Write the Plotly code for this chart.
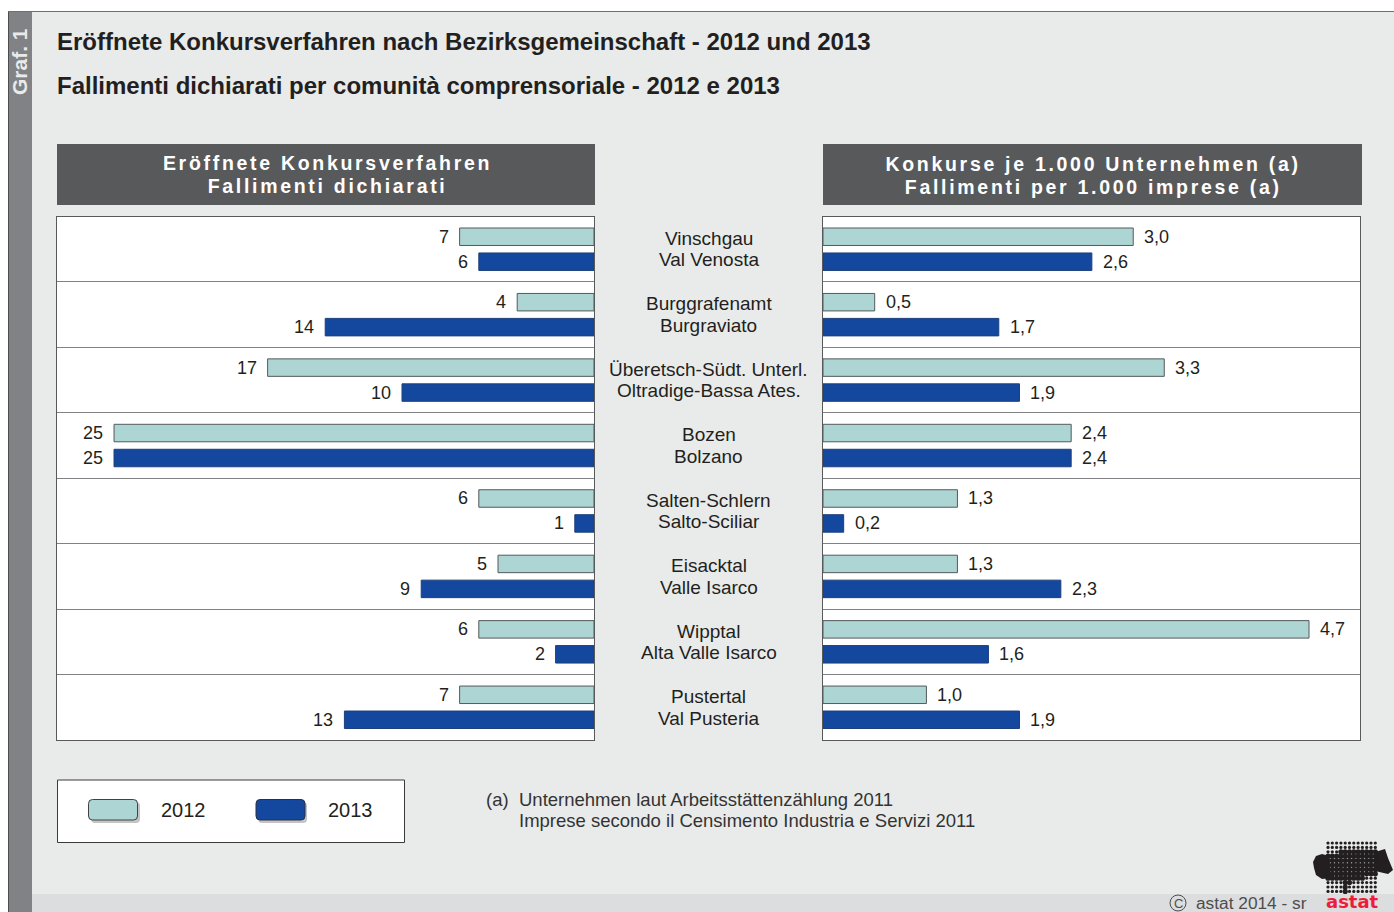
import plotly.graph_objects as go

W, H = 1394, 912
names_de = ["Vinschgau", "Burggrafenamt", "Überetsch-Südt. Unterl.", "Bozen", "Salten-Schlern", "Eisacktal", "Wipptal", "Pustertal"]
names_it = ["Val Venosta", "Burgraviato", "Oltradige-Bassa Ates.", "Bolzano", "Salto-Sciliar", "Valle Isarco", "Alta Valle Isarco", "Val Pusteria"]
count_2012 = [7, 4, 17, 25, 6, 5, 6, 7]
count_2013 = [6, 14, 10, 25, 1, 9, 2, 13]
rate_2012 = [3.0, 0.5, 3.3, 2.4, 1.3, 1.3, 4.7, 1.0]
rate_2013 = [2.6, 1.7, 1.9, 2.4, 0.2, 2.3, 1.6, 1.9]
rows = list(range(len(names_de)))

TEAL, BLUE = "#acd5d3", "#14489f"
INK, GREY = "#231f20", "#808285"
FONT = "Liberation Sans"


def px(x):
    return x / W


def py(y):
    return 1 - y / H


fig = go.Figure()
for xa, ya, a, b in (("x", "y", count_2012, count_2013), ("x2", "y2", rate_2012, rate_2013)):
    fig.add_bar(x=a, y=rows, orientation="h", name="2012", xaxis=xa, yaxis=ya,
                marker=dict(color=TEAL, line=dict(color="#55595c", width=1)), showlegend=False)
    fig.add_bar(x=b, y=rows, orientation="h", name="2013", xaxis=xa, yaxis=ya,
                marker=dict(color=BLUE, line=dict(color="#1d3f7c", width=1)), showlegend=False)

ann = []


def text(x, y, s, size=18, color=INK, anchor="left", bold=False, family=FONT, **kw):
    ann.append(dict(x=px(x), y=py(y), xref="paper", yref="paper", text=f"<b>{s}</b>" if bold else s,
                    showarrow=False, xanchor=anchor, yanchor="middle", borderpad=0, borderwidth=0,
                    font=dict(family=family, size=size, color=color), **kw))


OFF = 12.5
for i in rows:
    for val, oy, in ((count_2012[i], -OFF), (count_2013[i], OFF)):
        ann.append(dict(x=val, y=i, xref="x", yref="y", text=str(val), showarrow=False, xanchor="right",
                        xshift=-9, yshift=-oy, font=dict(family=FONT, size=18, color=INK)))
    for val, oy in ((rate_2012[i], -OFF), (rate_2013[i], OFF)):
        ann.append(dict(x=val, y=i, xref="x2", yref="y2", text=f"{val:.1f}".replace(".", ","), showarrow=False,
                        xanchor="left", xshift=9, yshift=-oy, font=dict(family=FONT, size=18, color=INK)))
    cy = 216.5 + 65.5 * (i + 0.5)
    text(708.7, cy - 11, names_de[i], size=19, anchor="center")
    text(708.7, cy + 10.5, names_it[i], size=19, anchor="center")

text(57, 41.5, "Eröffnete Konkursverfahren nach Bezirksgemeinschaft - 2012 und 2013", size=24, bold=True)
text(57, 85.5, "Fallimenti dichiarati per comunità comprensoriale - 2012 e 2013", size=24, bold=True)
text(19, 62, "Graf. 1", size=21, color="#e9ebea", anchor="center", bold=True, textangle=-90)
for x, y, s in ((327, 163, "Eröffnete Konkursverfahren"), (327, 186, "Fallimenti dichiarati"),
                (1093, 164, "Konkurse je 1.000 Unternehmen (a)"), (1093, 187, "Fallimenti per 1.000 imprese (a)")):
    text(x, y, s, size=19.5, color="#ffffff", anchor="center", bold=True)
text(161, 810, "2012", size=20)
text(328, 810, "2013", size=20)
text(486, 799.5, "(a)", size=18.5, color="#333333")
text(519, 799.5, "Unternehmen laut Arbeitsstättenzählung 2011", size=18.5, color="#333333")
text(519, 820.5, "Imprese secondo il Censimento Industria e Servizi 2011", size=18.5, color="#333333")
text(1196, 903, "astat 2014 - sr", size=17.3, color="#4d4d4f")
text(1178, 903, "C", size=13, color="#4d4d4f", anchor="center")
text(1352, 901, "astat", size=18, color="#ed1c3a", anchor="center", bold=True, family="DejaVu Sans")


def rect(x0, y0, x1, y1, fill, line=None, lw=1, layer="below"):
    return dict(type="rect", xref="paper", yref="paper", x0=px(x0), x1=px(x1), y0=py(y0), y1=py(y1),
                fillcolor=fill, line=dict(color=line or fill, width=lw if line else 0), layer=layer)


def rounded(x0, y0, x1, y1, r, fill, line=None):
    X, Y = px, py
    p = (f"M{X(x0+r)},{Y(y0)} L{X(x1-r)},{Y(y0)} Q{X(x1)},{Y(y0)} {X(x1)},{Y(y0+r)} "
         f"L{X(x1)},{Y(y1-r)} Q{X(x1)},{Y(y1)} {X(x1-r)},{Y(y1)} L{X(x0+r)},{Y(y1)} "
         f"Q{X(x0)},{Y(y1)} {X(x0)},{Y(y1-r)} L{X(x0)},{Y(y0+r)} Q{X(x0)},{Y(y0)} {X(x0+r)},{Y(y0)} Z")
    return dict(type="path", xref="paper", yref="paper", path=p, fillcolor=fill,
                line=dict(color=line or fill, width=1 if line else 0), layer="below")


def poly(points):
    path = "M" + " L".join(f"{px(a)},{py(b)}" for a, b in points) + " Z"
    return dict(type="path", xref="paper", yref="paper", path=path, fillcolor="#231f20",
                line=dict(width=0), layer="below")


shapes = [
    rect(8, 11, 1394, 912, "#e9ebea"),
    rect(32, 894, 1394, 912, "#dcddde"),
    rect(9, 12, 32, 912, GREY),
    dict(type="line", xref="paper", yref="paper", x0=px(8.5), x1=px(8.5), y0=py(11), y1=0, line=dict(color="#4d4d4f", width=1), layer="below"),
    dict(type="line", xref="paper", yref="paper", x0=px(8), x1=1, y0=py(11.5), y1=py(11.5), line=dict(color="#6d6e71", width=1), layer="below"),
    rect(57, 144, 595, 205, "#58595b"),
    rect(823, 144, 1362, 205, "#58595b"),
    rect(57, 216.5, 594, 740, "#ffffff"),
    rect(823, 216.5, 1360, 740, "#ffffff"),
    rect(57.5, 780, 404.5, 842.5, "#ffffff", "#3a3a3c"),
    rounded(91, 802, 140, 823, 4, "#c4c4c4"),
    rounded(258, 802, 307, 823, 4, "#c4c4c4"),
    rounded(88.5, 799.5, 137.5, 820, 4, TEAL, "#414042"),
    rounded(256, 799.5, 305, 820, 4, BLUE, "#2b2f45"),
    dict(type="circle", xref="paper", yref="paper", x0=px(1170), x1=px(1186), y0=py(895), y1=py(911),
         line=dict(color="#4d4d4f", width=1), layer="below"),
    # astat logo: the solid ends of the province silhouette
    poly([(1313, 862), (1316, 856), (1322, 854), (1329, 856), (1331, 878), (1322, 879), (1316, 875), (1314, 868)]),
    poly([(1375, 852), (1385, 849), (1388, 858), (1393, 870), (1388, 874), (1375, 871)]),
]

# astat logo: 12 x 12 dot grid, larger dots inside the silhouette
logo_top = [3, 3, 3, 2, 2, 2, 2, 2, 2, 2, 2, 2]
logo_bottom = [8, 8, 8, 8, 11, 9, 8, 8, 8, 7, 7, 7]
dx, dy, ds = [], [], []
for r in range(12):
    for c in range(12):
        dx.append(1328 + c * 4.3)
        dy.append(843 + r * 4.4)
        ds.append(5.2 if logo_top[c] <= r <= logo_bottom[c] else 3.2)
fig.add_scatter(x=dx, y=dy, xaxis="x3", yaxis="y3", mode="markers", showlegend=False, hoverinfo="skip",
                marker=dict(size=ds, color="#231f20", opacity=1, line=dict(width=0)))

AX = dict(showline=True, mirror=True, linecolor="#58595b", linewidth=1, zeroline=False, ticks="", showticklabels=False)
Y = dict(AX, range=[7.5, -0.5], tickmode="array", tickvals=[r + 0.5 for r in rows[:-1]],
         showgrid=True, gridcolor=GREY, gridwidth=1)
fig.update_layout(
    width=W, height=H, margin=dict(l=0, r=0, t=0, b=0), paper_bgcolor="#ffffff", plot_bgcolor="rgba(0,0,0,0)",
    barmode="group", bargap=0.237, bargroupgap=0.30, shapes=shapes, annotations=ann,
    xaxis=dict(AX, domain=[px(57), px(594)], range=[27.97, 0], showgrid=False),
    yaxis=dict(Y, domain=[py(740), py(216.5)], anchor="x"),
    xaxis2=dict(AX, domain=[px(823), px(1360)], range=[0, 5.193], showgrid=False),
    yaxis2=dict(Y, domain=[py(740), py(216.5)], anchor="x2"),
    xaxis3=dict(domain=[px(1320), px(1385)], range=[1320, 1385], visible=False),
    yaxis3=dict(domain=[py(900), py(835)], range=[900, 835], visible=False, anchor="x3"),
)
post = """
document.body.style.margin='0';
document.documentElement.style.overflow='hidden';
var hdr=['Eröffnete Konkursverfahren','Fallimenti dichiarati','Konkurse je 1.000 Unternehmen (a)','Fallimenti per 1.000 imprese (a)'];
document.querySelectorAll('.annotation-text').forEach(function(t){
  if(hdr.indexOf(t.textContent)>=0){t.style.letterSpacing='2.7px';}
});
"""
fig.write_html("out.html", post_script=post, config=dict(displayModeBar=False))
